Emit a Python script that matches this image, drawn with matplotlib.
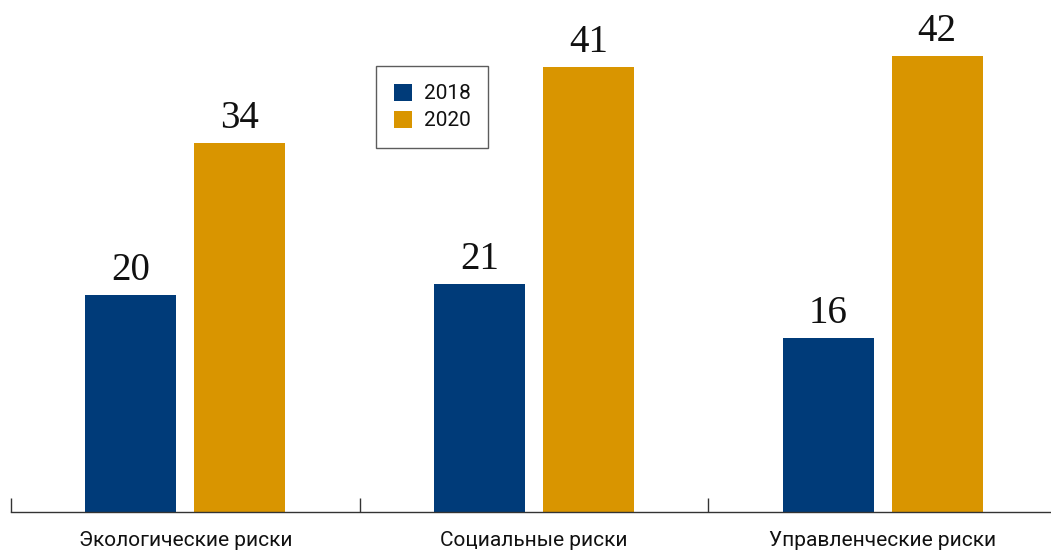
import numpy as np
import matplotlib
matplotlib.use("Agg")
import matplotlib.pyplot as plt
from matplotlib import font_manager

categories = ["Экологические риски", "Социальные риски", "Управленческие риски"]
years = ["2018", "2020"]
values_2018 = [20, 21, 16]
values_2020 = [34, 41, 42]

blue = "#003b79"
gold = "#d99500"

names = {f.name for f in font_manager.fontManager.ttflist}
narrow = "Liberation Sans Narrow" if "Liberation Sans Narrow" in names else "Roboto"

fig = plt.figure(figsize=(10.51, 5.53), dpi=100)
ax = fig.add_axes([11 / 1051, 41 / 553, 1046 / 1051, 512 / 553])

x = np.arange(len(categories))
w = 0.261
off = 0.156
b1 = ax.bar(x - off, values_2018, w, color=blue, label=years[0])
b2 = ax.bar(x + off, values_2020, w, color=gold, label=years[1])

for bars, vals in [(b1, values_2018), (b2, values_2020)]:
    for r, v in zip(bars, vals):
        ax.annotate(str(v), (r.get_x() + r.get_width() / 2, v),
                    xytext=(0, 11), textcoords="offset points",
                    ha="center", va="baseline", fontsize=28,
                    family="Liberation Serif", color="#111111")

ax.set_xlim(-0.5, 2.5)
ax.set_ylim(0, 47.2)
for s in ["top", "right", "left"]:
    ax.spines[s].set_visible(False)
ax.spines["bottom"].set_color("#333333")
ax.spines["bottom"].set_linewidth(1)
ax.set_yticks([])
ax.set_xticks(x)
ax.set_xticklabels(categories, family=narrow, fontsize=15, color="#111111")
ax.tick_params(axis="x", which="major", length=0, pad=14)
ax.set_xticks([-0.5, 0.5, 1.5, 2.5], minor=True)
ax.tick_params(axis="x", which="minor", direction="in", length=10,
               width=1, color="#333333")

leg = fig.legend(loc="upper left", bbox_to_anchor=(376 / 1051, 1 - 66 / 553),
                 borderaxespad=0, fancybox=False, frameon=True,
                 prop={"family": narrow, "size": 15},
                 handlelength=0.9, handleheight=0.87, handletextpad=0.55,
                 labelspacing=0.35, borderpad=0.85)
leg.get_frame().set_edgecolor("#333333")
leg.get_frame().set_linewidth(1)
for t in leg.get_texts():
    t.set_color("#111111")

fig.savefig("out.png", dpi=100)
